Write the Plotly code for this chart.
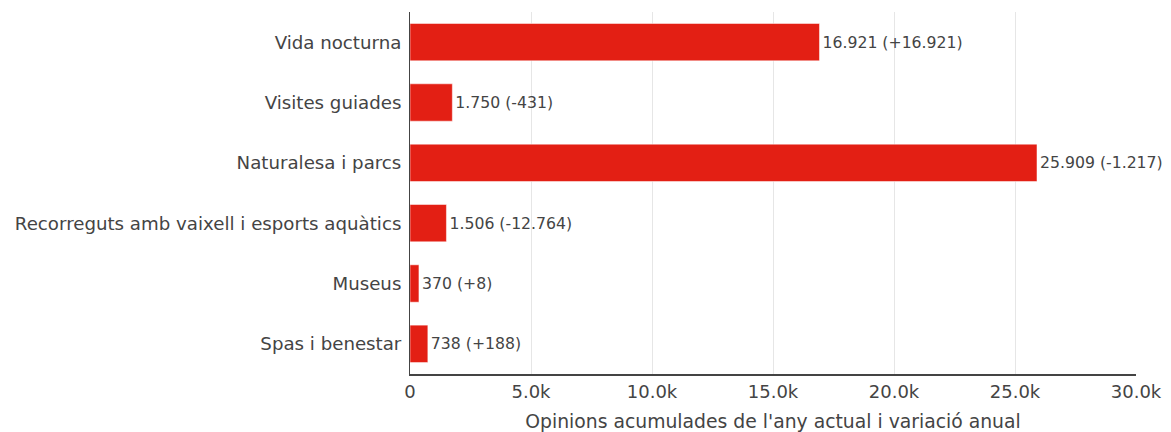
import plotly.graph_objects as go

categories = ["Vida nocturna", "Visites guiades", "Naturalesa i parcs",
              "Recorreguts amb vaixell i esports aquàtics", "Museus", "Spas i benestar"]
values = [16921, 1750, 25909, 1506, 370, 738]
changes = [16921, -431, -1217, -12764, 8, 188]
tick_vals = [0, 5000, 10000, 15000, 20000, 25000, 30000]
tick_text = ["0", "5.0k", "10.0k", "15.0k", "20.0k", "25.0k", "30.0k"]

def fmt(n):
    return f"{abs(n):,}".replace(",", ".")

labels = [f"{fmt(v)} ({'+' if c >= 0 else '-'}{fmt(c)})" for v, c in zip(values, changes)]

fig = go.Figure(go.Bar(
    y=categories, x=values, orientation="h",
    marker=dict(color="#e31f14", line=dict(color="rgba(255,255,255,0.5)", width=1)),
    width=0.62,
    text=labels, textposition="outside", cliponaxis=False,
    textfont=dict(family="DejaVu Sans", size=15.7, color="#444444"),
))

fig.update_layout(
    width=1171, height=432,
    margin=dict(l=402, r=43, t=4, b=66, autoexpand=False),
    paper_bgcolor="white", plot_bgcolor="white",
    showlegend=False,
    font=dict(family="DejaVu Sans", color="#444444"),
    xaxis=dict(range=[0, 30000], tickvals=tick_vals, ticktext=tick_text,
               showgrid=True, gridcolor="#e6e6e6", gridwidth=1,
               showline=True, linecolor="#444444", linewidth=2,
               zeroline=False, ticks="", automargin=False,
               tickfont=dict(size=18, color="#444444"),
               title=dict(text="Opinions acumulades de l'any actual i variació anual",
                          font=dict(size=18.8, color="#444444"), standoff=14)),
    yaxis=dict(autorange="reversed", showline=True, linecolor="#444444", linewidth=1,
               ticks="", ticklabelstandoff=4, showgrid=False, automargin=False,
               tickfont=dict(size=18.2, color="#444444")),
)

fig.write_html("out.html")
